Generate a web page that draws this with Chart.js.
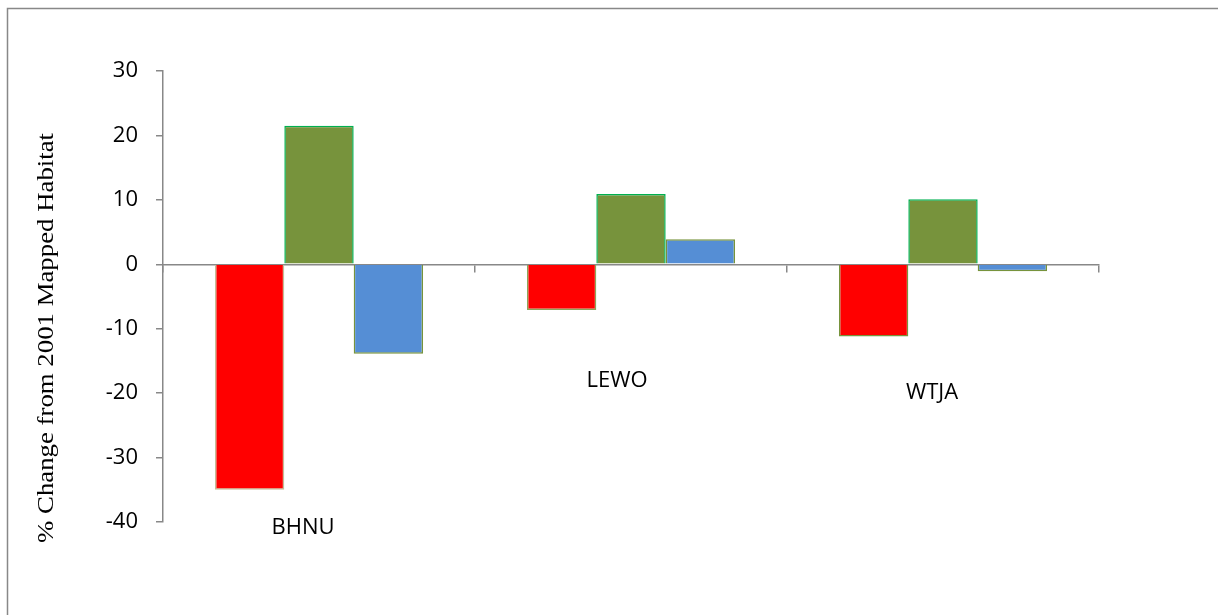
<!DOCTYPE html>
<html>
<head>
<meta charset="utf-8">
<title>% Change from 2001 Mapped Habitat</title>
<script src="https://cdn.jsdelivr.net/npm/chart.js@4.4.1/dist/chart.umd.min.js"></script>
<style>
  html, body { margin: 0; padding: 0; background: #ffffff; }
  canvas { display: block; }
</style>
</head>
<body>
<canvas id="chart" width="1218" height="615"></canvas>
<script>
// Species codes along the category axis
const species = ['BHNU', 'LEWO', 'WTJA'];

// Percent change in mapped habitat, one array per series
const seriesRed = [-35.0, -7.1, -11.2];
const seriesGreen = [21.5, 10.9, 10.1];
const seriesBlue = [-13.9, 3.9, -1.1];

// Value-axis range and step
const yMin = -40;
const yMax = 30;
const yStep = 10;

// Where each species name sits, in axis units (vertical) and pixel nudge (horizontal)
const speciesLabelY = [-40.9, -18.1, -20.0];
const speciesLabelDx = [-16, -14, -11];

const axisGrey = '#888888';
const tickFont = { family: '"Open Sans", "Liberation Sans", sans-serif', size: 22 };

// Outer frame, rotated value-axis title and species names
const decorations = {
  id: 'decorations',
  beforeDraw(chart) {
    const ctx = chart.ctx;
    ctx.save();
    ctx.fillStyle = '#ffffff';
    ctx.fillRect(0, 0, chart.width, chart.height);
    ctx.strokeStyle = axisGrey;
    ctx.lineWidth = 1.5;
    ctx.beginPath();
    ctx.moveTo(7.5, chart.height + 5);
    ctx.lineTo(7.5, 8.5);
    ctx.lineTo(chart.width + 5, 8.5);
    ctx.stroke();
    ctx.restore();
  },
  afterDraw(chart) {
    const ctx = chart.ctx;
    const xs = chart.scales.x;
    const ys = chart.scales.y;

    // value-axis title
    const title = '% Change from 2001 Mapped Habitat';
    ctx.save();
    ctx.font = '23px "Liberation Serif", "Times New Roman", serif';
    ctx.fillStyle = '#000000';
    ctx.textAlign = 'center';
    ctx.textBaseline = 'middle';
    const w = ctx.measureText(title).width;
    ctx.translate(47, 338);
    ctx.rotate(-Math.PI / 2);
    ctx.scale(410 / w, 1);
    ctx.fillText(title, 0, 0);
    ctx.restore();

    // species names
    ctx.save();
    ctx.font = '22px "Open Sans", "Liberation Sans", sans-serif';
    ctx.fillStyle = '#000000';
    ctx.textAlign = 'center';
    ctx.textBaseline = 'middle';
    species.forEach((name, i) => {
      const px = xs.getPixelForValue(i) + speciesLabelDx[i];
      const py = ys.getPixelForValue(speciesLabelY[i]);
      ctx.fillText(name, px, py);
    });
    ctx.restore();
  }
};

new Chart(document.getElementById('chart'), {
  type: 'bar',
  data: {
    labels: species,
    datasets: [
      {
        label: 'Red',
        data: seriesRed,
        backgroundColor: '#ff0000',
        borderColor: ['#c4bd97', '#8ea65a', '#77933c'],
        borderWidth: 1.5
      },
      {
        label: 'Green',
        data: seriesGreen,
        backgroundColor: '#77933c',
        borderColor: '#00b050',
        borderWidth: 1.5
      },
      {
        label: 'Blue',
        data: seriesBlue,
        backgroundColor: '#558ed5',
        borderColor: '#77933c',
        borderWidth: 1.5
      }
    ]
  },
  options: {
    responsive: false,
    animation: false,
    devicePixelRatio: 1,
    categoryPercentage: 0.667,
    barPercentage: 1.0,
    layout: { padding: { top: 71, right: 119, bottom: 93, left: 0 } },
    plugins: {
      legend: { display: false },
      tooltip: { enabled: false },
      title: { display: false }
    },
    scales: {
      x: {
        position: { y: 0 },
        grid: {
          display: true,
          offset: true,
          drawOnChartArea: false,
          drawTicks: true,
          tickLength: 7,
          color: axisGrey,
          lineWidth: 1.5
        },
        border: { display: true, color: axisGrey, width: 1.5 },
        ticks: { display: false }
      },
      y: {
        min: yMin,
        max: yMax,
        afterFit(scale) { scale.width = 163; },
        grid: {
          display: true,
          drawOnChartArea: false,
          drawTicks: true,
          tickLength: 7,
          color: axisGrey,
          lineWidth: 1.5
        },
        border: { display: true, color: axisGrey, width: 1.5 },
        ticks: {
          stepSize: yStep,
          padding: 18,
          color: '#000000',
          font: tickFont
        }
      }
    }
  },
  plugins: [decorations]
});
</script>
</body>
</html>
